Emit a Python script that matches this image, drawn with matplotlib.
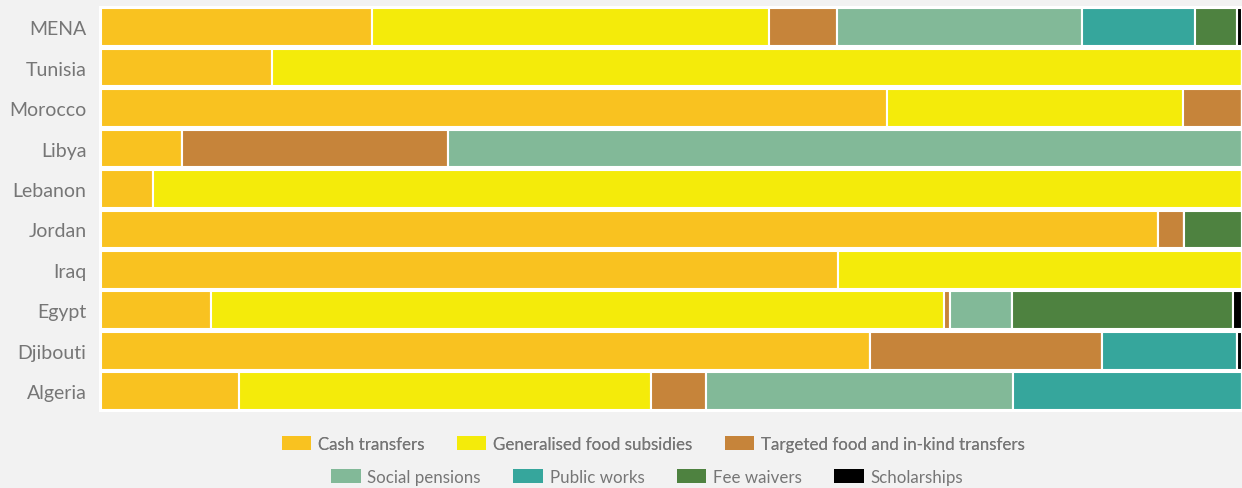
import matplotlib.pyplot as plt
from matplotlib.patches import Patch
import numpy as np

countries = ['MENA', 'Tunisia', 'Morocco', 'Libya', 'Lebanon',
             'Jordan', 'Iraq', 'Egypt', 'Djibouti', 'Algeria']

categories = ['Cash transfers', 'Generalised food subsidies',
              'Targeted food and in-kind transfers', 'Social pensions',
              'Public works', 'Fee waivers', 'Scholarships']

# share of spending by programme type (%), one list per category, countries in order above
cash      = [23.7, 15.0, 68.9,  7.1,  4.5, 92.6, 64.6,  9.6, 67.4, 12.1]
food_subs = [34.8, 85.0, 25.9,  0.0, 95.5,  0.0, 35.4, 64.3,  0.0, 36.1]
targeted  = [ 6.0,  0.0,  5.2, 23.3,  0.0,  2.3,  0.0,  0.5, 20.3,  4.8]
pensions  = [21.5,  0.0,  0.0, 69.6,  0.0,  0.0,  0.0,  5.4,  0.0, 26.9]
pub_works = [ 9.9,  0.0,  0.0,  0.0,  0.0,  0.0,  0.0,  0.0, 11.9, 20.1]
fee_waive = [ 3.7,  0.0,  0.0,  0.0,  0.0,  5.1,  0.0, 19.4,  0.0,  0.0]
scholars  = [ 0.4,  0.0,  0.0,  0.0,  0.0,  0.0,  0.0,  0.8,  0.4,  0.0]

colors = ['#F9C220', '#F4EB0A', '#C6843A', '#82B998', '#36A69C', '#4E8240', '#000000']

series = [cash, food_subs, targeted, pensions, pub_works, fee_waive, scholars]

plt.rcParams['font.family'] = ['Lato', 'DejaVu Sans']

fig = plt.figure(figsize=(12.42, 4.89), dpi=100, facecolor='#F2F2F2')
ax = fig.add_axes([0.0797, 0.155, 0.9203, 0.8303])
ax.set_facecolor('white')

y = np.arange(len(countries))
left = np.zeros(len(countries))
for vals, col in zip(series, colors):
    vals = np.array(vals)
    ax.barh(y, vals, left=left, height=0.93, color=col,
            edgecolor='white', linewidth=1.5)
    left += vals

ax.set_xlim(-0.2, 100)
ax.set_ylim(len(countries) - 0.5 + 0.02, -0.5 - 0.02)
ax.set_yticks(y)
ax.set_yticklabels(countries, fontsize=14, color='#767676')
ax.tick_params(axis='y', length=0, pad=9)
ax.set_xticks([])
for s in ax.spines.values():
    s.set_visible(False)

handles = [Patch(facecolor=c, edgecolor='none', label=l) for c, l in zip(colors, categories)]
leg_kw = dict(frameon=False, fontsize=12.2, labelcolor='#767676', handlelength=1.75,
              handleheight=0.9, handletextpad=0.4, columnspacing=1.9, loc='center')
leg1 = fig.legend(handles=handles[:3], ncol=3, bbox_to_anchor=(0.526, 0.09), **leg_kw)
fig.add_artist(leg1)
fig.legend(handles=handles[3:], ncol=4, bbox_to_anchor=(0.521, 0.022), **leg_kw)

fig.savefig('out.png', dpi=100, facecolor=fig.get_facecolor())
